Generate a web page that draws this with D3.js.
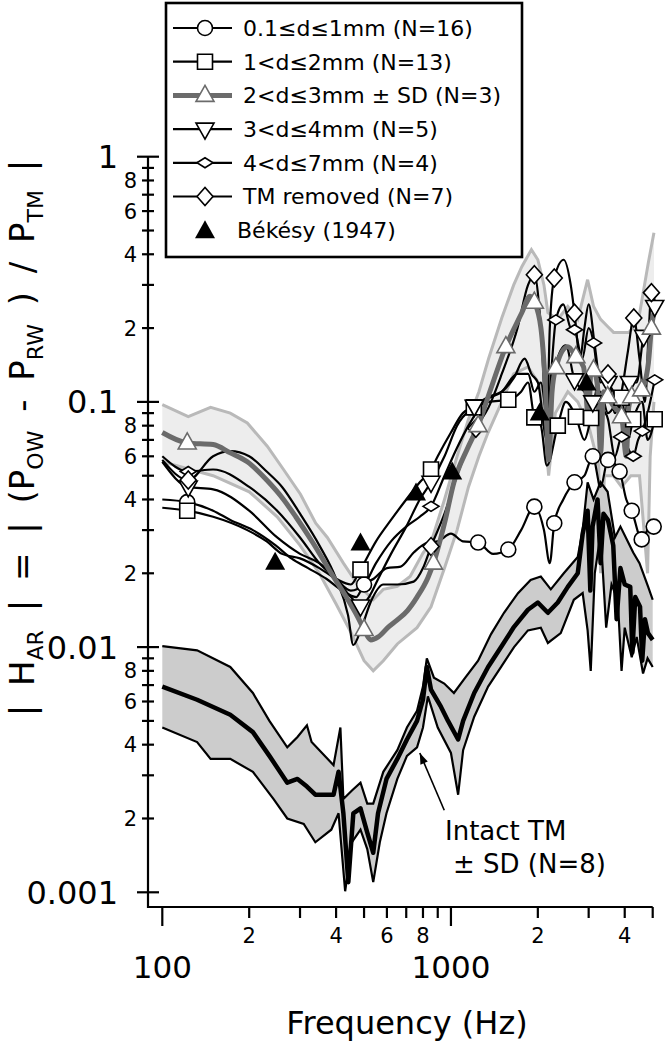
<!DOCTYPE html>
<html>
<head>
<meta charset="utf-8">
<script src="https://cdn.jsdelivr.net/npm/d3@7"></script>
<style>
  body { margin: 0; background: #fff; }
  svg { display: block; font-family: "DejaVu Sans", sans-serif; }
</style>
</head>
<body>
<svg id="chart" width="672" height="1050"></svg>
<script>
// values: [frequency Hz, |H_AR|, marker?]
var intactMean = [[100,0.0069],[132,0.0061],[172,0.0053],[206,0.0045],[235,0.0036],[271,0.0028],[294,0.0029],[317,0.0027],[339,0.0025],[362,0.0025],[392,0.0025],[408,0.0031],[424,0.0021],[441,0.0011],[459,0.0021],[486,0.0022],[513,0.00175],[538,0.00145],[559,0.0021],[598,0.0029],[652,0.0035],[704,0.0042],[763,0.005],[800,0.0061],[825,0.0083],[853,0.0067],[924,0.0057],[977,0.005],[1059,0.0042],[1102,0.005],[1204,0.0065],[1345,0.0083],[1492,0.01],[1654,0.0121],[1848,0.0142],[2000,0.0152],[2167,0.0138],[2345,0.0152],[2540,0.0176],[2750,0.02],[2860,0.029],[2975,0.036],[3040,0.017],[3095,0.031],[3220,0.04],[3300,0.022],[3377,0.035],[3500,0.033],[3650,0.026],[3750,0.013],[3865,0.021],[4000,0.018],[4180,0.0176],[4250,0.0095],[4350,0.016],[4520,0.0146],[4600,0.0088],[4700,0.013],[4816,0.0114],[5000,0.0107]];
var intactUpper = [[100,0.0101],[132,0.0097],[172,0.0083],[206,0.0065],[235,0.005],[271,0.0039],[294,0.0043],[317,0.0048],[329,0.0041],[392,0.0033],[414,0.0047],[424,0.0024],[454,0.0026],[486,0.0028],[513,0.0023],[538,0.0023],[583,0.0031],[652,0.0038],[704,0.0047],[763,0.0055],[800,0.0069],[825,0.009],[873,0.0075],[948,0.0071],[1024,0.0065],[1111,0.0074],[1242,0.0088],[1377,0.0113],[1527,0.0138],[1707,0.0166],[1888,0.0188],[2048,0.0194],[2218,0.0172],[2460,0.02],[2750,0.0233],[2860,0.03],[2975,0.047],[3120,0.04],[3300,0.047],[3490,0.043],[3700,0.028],[3865,0.031],[4280,0.0243],[4500,0.022],[4816,0.0177],[5000,0.0156]];
var intactLower = [[100,0.0047],[132,0.0041],[147,0.0035],[172,0.0035],[206,0.0031],[243,0.0024],[271,0.002],[309,0.0019],[339,0.0016],[385,0.0018],[408,0.0021],[430,0.00101],[454,0.0016],[486,0.0018],[513,0.0015],[538,0.0011],[567,0.0016],[598,0.0021],[652,0.0029],[704,0.0036],[763,0.0039],[800,0.0047],[832,0.0063],[900,0.0047],[1000,0.0037],[1059,0.0025],[1102,0.0038],[1204,0.0052],[1345,0.0069],[1492,0.0083],[1654,0.01],[1848,0.0117],[2048,0.012],[2167,0.0104],[2401,0.0114],[2665,0.0156],[2860,0.0166],[2975,0.0117],[3050,0.008],[3150,0.02],[3300,0.029],[3450,0.012],[3600,0.018],[3784,0.0156],[3900,0.008],[4000,0.012],[4230,0.0091],[4400,0.011],[4630,0.0078],[4800,0.009],[5000,0.0083]];

var grayMean = [[100,0.075],[122,0.068,1],[150,0.067],[172,0.062],[197,0.057],[230,0.048],[263,0.04],[290,0.034],[332,0.0267],[385,0.02],[434,0.016],[475,0.0133],[500,0.0118,1],[527,0.0107],[560,0.011],[604,0.012],[652,0.0129],[707,0.0141],[763,0.016],[832,0.0192],[870,0.022,1],[950,0.032],[1024,0.047],[1144,0.065],[1242,0.08,1],[1345,0.105],[1550,0.168,1],[1760,0.231],[1880,0.27],[1945,0.255,1],[2050,0.2],[2120,0.12],[2180,0.058],[2240,0.11],[2310,0.138,1],[2540,0.168],[2710,0.153,1],[2880,0.139],[3000,0.085],[3050,0.13],[3120,0.135,1],[3220,0.115],[3300,0.062],[3380,0.11],[3490,0.105,1],[3660,0.096],[3900,0.087,1],[4050,0.06],[4130,0.095],[4230,0.105,1],[4580,0.112,1],[4830,0.144],[4950,0.2,1],[5050,0.23]];
var grayUpper = [[100,0.0975],[123,0.087],[147,0.095],[172,0.09],[197,0.082],[231,0.066],[263,0.053],[301,0.042],[340,0.032],[373,0.028],[424,0.022],[475,0.018],[538,0.0156],[583,0.0172],[652,0.0177],[722,0.0194],[800,0.0242],[853,0.0267],[950,0.04],[1050,0.06],[1150,0.085],[1250,0.11],[1350,0.15],[1500,0.22],[1650,0.3],[1760,0.356],[1900,0.418],[2000,0.38],[2100,0.3],[2167,0.231],[2345,0.217],[2540,0.245],[2750,0.217],[2975,0.315],[3120,0.245],[3300,0.217],[3490,0.203],[3660,0.192],[4130,0.192],[4450,0.211],[4830,0.37],[5050,0.49]];
var grayLower = [[100,0.057],[150,0.05],[200,0.043],[250,0.034],[300,0.026],[350,0.02],[400,0.015],[450,0.0115],[500,0.0088],[538,0.008],[583,0.0088],[652,0.0103],[763,0.012],[853,0.0146],[950,0.021],[1050,0.03],[1150,0.045],[1250,0.06],[1345,0.075],[1500,0.1],[1650,0.13],[1848,0.139],[2048,0.116],[2180,0.05],[2300,0.09],[2540,0.11],[2750,0.1],[3000,0.08],[3250,0.055],[3300,0.02],[3400,0.05],[3650,0.05],[3900,0.045],[4200,0.05],[4500,0.05],[4800,0.02],[4900,0.06],[5050,0.1]];

var seriesA = [[100,0.04],[122,0.039,1],[150,0.036],[172,0.033],[206,0.03],[247,0.026],[280,0.023],[320,0.021],[370,0.019],[420,0.017],[470,0.016],[500,0.018,1],[540,0.019],[600,0.021],[670,0.0213],[743,0.0243],[830,0.0267],[900,0.027],[1000,0.029],[1100,0.027],[1242,0.0267,1],[1400,0.024],[1580,0.025,1],[1750,0.03],[1945,0.0374,1],[2100,0.03],[2200,0.022],[2280,0.032,1],[2450,0.04],[2680,0.047,1],[2900,0.05],[3100,0.06,1],[3300,0.045],[3500,0.058,1],[3840,0.052,1],[4050,0.04],[4230,0.036,1],[4580,0.0275,1],[4800,0.03],[5040,0.031,1]];
var seriesB = [[100,0.037],[122,0.036,1],[150,0.034],[197,0.03],[230,0.027],[260,0.024],[300,0.023],[350,0.021],[400,0.019],[450,0.018],[486,0.0207,1],[550,0.027],[620,0.033],[700,0.04],[780,0.047],[853,0.053,1],[900,0.06],[1000,0.075],[1100,0.09],[1200,0.095,1],[1350,0.1],[1580,0.102,1],[1750,0.11],[1850,0.12],[1945,0.0865,1],[2050,0.08],[2150,0.055],[2345,0.08,1],[2500,0.1],[2710,0.087,1],[2900,0.07],[3060,0.086,1],[3300,0.11],[3500,0.09],[3900,0.104,1],[4100,0.07],[4280,0.085,1],[4600,0.1],[4800,0.07],[5080,0.085,1]];
var seriesD = [[100,0.057],[123,0.045,1],[150,0.044],[200,0.036],[250,0.028],[300,0.024],[350,0.022],[400,0.019],[450,0.016],[486,0.0147,1],[520,0.016],[560,0.019],[620,0.024],[700,0.031],[780,0.04],[853,0.047,1],[950,0.06],[1050,0.08],[1204,0.096,1],[1350,0.105],[1500,0.11],[1650,0.125],[1800,0.15],[1900,0.13],[2000,0.12],[2150,0.07],[2300,0.14],[2500,0.17],[2680,0.123,1],[2900,0.11],[3100,0.1,1],[3300,0.13],[3500,0.12,1],[3800,0.1],[4000,0.085],[4150,0.12,1],[4400,0.12],[4650,0.185,1],[4850,0.2],[5080,0.245,1]];
var seriesE = [[100,0.06],[123,0.052,1],[150,0.053],[200,0.045],[250,0.036],[300,0.028],[350,0.022],[400,0.019],[450,0.017],[500,0.018],[550,0.022],[620,0.027],[700,0.031],[780,0.034],[853,0.0375,1],[950,0.05],[1050,0.065],[1150,0.08],[1300,0.1],[1500,0.11],[1700,0.13],[1850,0.13],[1945,0.11],[2050,0.12],[2150,0.09],[2310,0.216,1],[2450,0.25],[2600,0.2],[2680,0.197,1],[2850,0.15],[3000,0.2],[3120,0.174,1],[3300,0.1],[3500,0.085],[3700,0.06],[3900,0.072,1],[4100,0.065],[4280,0.06,1],[4450,0.07],[4600,0.076,1],[4800,0.09],[5080,0.123,1]];
var seriesF = [[100,0.058],[123,0.048,1],[150,0.06],[172,0.063],[200,0.06],[230,0.052],[260,0.045],[300,0.035],[350,0.026],[400,0.019],[440,0.0135],[459,0.0102],[490,0.012],[530,0.0155],[583,0.018],[652,0.018],[743,0.0185],[800,0.021],[853,0.0257,1],[950,0.035],[1050,0.05],[1220,0.078,1],[1350,0.095],[1500,0.13],[1700,0.2],[1850,0.3],[1945,0.33,1],[2050,0.2],[2150,0.08],[2200,0.2],[2280,0.32,1],[2460,0.38],[2600,0.3],[2680,0.23,1],[2800,0.15],[2900,0.2],[3000,0.25],[3150,0.17],[3300,0.12],[3500,0.13,1],[3700,0.09],[3900,0.11],[4100,0.16],[4300,0.22,1],[4500,0.15],[4700,0.1],[4850,0.2],[4950,0.279,1],[5080,0.26]];
var bekesy = [[246,0.0223],[486,0.0267],[757,0.0427],[1010,0.052],[2030,0.0905],[2950,0.12]];

var legendLabels = ["0.1\u2264d\u22641mm (N=16)", "1<d\u22642mm (N=13)", "2<d\u22643mm \u00b1 SD (N=3)", "3<d\u22644mm (N=5)", "4<d\u22647mm (N=4)", "TM removed (N=7)", "B\u00e9k\u00e9sy (1947)"];
var yMajorTicks = [1, 0.1, 0.01, 0.001];
var yMajorLabels = ["1", "0.1", "0.01", "0.001"];
var yMinorTicks = [0.9,0.8,0.7,0.6,0.5,0.4,0.3,0.2,0.09,0.08,0.07,0.06,0.05,0.04,0.03,0.02,0.009,0.008,0.007,0.006,0.005,0.004,0.003,0.002];
var yMinorLabeled = [0.8,0.6,0.4,0.2,0.08,0.06,0.04,0.02,0.008,0.006,0.004,0.002];
var yMinorLabels = ["8","6","4","2","8","6","4","2","8","6","4","2"];
var xMajorTicks = [100, 1000];
var xMajorLabels = ["100", "1000"];
var xMinorTicks = [200,300,400,500,600,700,800,900,2000,3000,4000,5000];
var xMinorLabeled = [200,400,600,800,2000,4000];
var xMinorLabels = ["2","4","6","8","2","4"];

var svg = d3.select("#chart");
var x = d3.scaleLog().domain([100, 5000]).range([162.3, 652.7]);
var y = d3.scaleLog().domain([0.001, 1]).range([892.3, 156.7]);
var axisLeftX = 148, axisBottomY = 907;

var lineGen = function(curve) {
  return d3.line()
    .x(function(d) { return x(d[0]); })
    .y(function(d) { return y(d[1]); })
    .curve(curve || d3.curveLinear);
};

var band = function(upper, lower, fill) {
  var pts = upper.concat(lower.slice().reverse());
  svg.append("path")
    .attr("d", lineGen()(pts) + "Z")
    .attr("fill", fill)
    .attr("stroke", "none");
};

var markerPath = function(type, cx, cy) {
  if (type === "triUp") {
    return "M" + cx + "," + (cy - 10) + "L" + (cx + 9) + "," + (cy + 6) + "L" + (cx - 9) + "," + (cy + 6) + "Z";
  }
  if (type === "triDown") {
    return "M" + cx + "," + (cy + 10) + "L" + (cx + 9) + "," + (cy - 6) + "L" + (cx - 9) + "," + (cy - 6) + "Z";
  }
  if (type === "triFill") {
    return "M" + cx + "," + (cy - 10) + "L" + (cx + 10) + "," + (cy + 8) + "L" + (cx - 10) + "," + (cy + 8) + "Z";
  }
  if (type === "smallDiamond") {
    return "M" + (cx - 8) + "," + cy + "L" + cx + "," + (cy - 5) + "L" + (cx + 8) + "," + cy + "L" + cx + "," + (cy + 5) + "Z";
  }
  if (type === "diamond") {
    return "M" + (cx - 8) + "," + cy + "L" + cx + "," + (cy - 9) + "L" + (cx + 8) + "," + cy + "L" + cx + "," + (cy + 9) + "Z";
  }
  if (type === "square") {
    return "M" + (cx - 7.5) + "," + (cy - 7.5) + "h15v15h-15Z";
  }
  // circle
  return "M" + (cx - 7.5) + "," + cy + "a7.5,7.5 0 1,0 15,0a7.5,7.5 0 1,0 -15,0Z";
};

var drawMarker = function(g, type, cx, cy, color) {
  g.append("path")
    .attr("d", markerPath(type, cx, cy))
    .attr("fill", type === "triFill" ? "#000" : "#fff")
    .attr("stroke", color || "#000")
    .attr("stroke-width", type === "triFill" ? 0 : 1.6);
};

// 2<d<=3 mm band
band(grayUpper, grayLower, "#ededed");
[grayUpper, grayLower].forEach(function(s) {
  svg.append("path").attr("d", lineGen()(s))
    .attr("fill", "none").attr("stroke", "#b9b9b9").attr("stroke-width", 3);
});

// intact TM band
band(intactUpper, intactLower, "#cccccc");
[intactUpper, intactLower].forEach(function(s) {
  svg.append("path").attr("d", lineGen()(s))
    .attr("fill", "none").attr("stroke", "#000").attr("stroke-width", 2.2);
});
svg.append("path").attr("d", lineGen()(intactMean))
  .attr("fill", "none").attr("stroke", "#000").attr("stroke-width", 4.5)
  .attr("stroke-linejoin", "round");

var blackSeries = [
  { data: seriesA, marker: "circle" },
  { data: seriesB, marker: "square" },
  { data: seriesD, marker: "triDown" },
  { data: seriesE, marker: "smallDiamond" },
  { data: seriesF, marker: "diamond" }
];

blackSeries.forEach(function(s) {
  svg.append("path").attr("d", lineGen(d3.curveMonotoneX)(s.data))
    .attr("fill", "none").attr("stroke", "#000").attr("stroke-width", 2.2);
});
svg.append("path").attr("d", lineGen(d3.curveMonotoneX)(grayMean))
  .attr("fill", "none").attr("stroke", "#6b6b6b").attr("stroke-width", 5)
  .attr("stroke-linejoin", "round");

var marks = svg.append("g").attr("class", "markers");
blackSeries.forEach(function(s) {
  s.data.forEach(function(d) {
    if (d[2]) drawMarker(marks, s.marker, x(d[0]), y(d[1]));
  });
});
grayMean.forEach(function(d) {
  if (d[2]) drawMarker(marks, "triUp", x(d[0]), y(d[1]), "#6b6b6b");
});
bekesy.forEach(function(d) {
  drawMarker(marks, "triFill", x(d[0]), y(d[1]));
});

// arrow to the intact curve
var ax1 = x(948), ay1 = y(0.00216), ax2 = x(780), ay2 = y(0.0037);
var ang = Math.atan2(ay2 - ay1, ax2 - ax1);
svg.append("line").attr("x1", ax1).attr("y1", ay1).attr("x2", ax2).attr("y2", ay2)
  .attr("stroke", "#000").attr("stroke-width", 1.6);
svg.append("path")
  .attr("d", "M0,0L-11,-4L-11,4Z")
  .attr("transform", "translate(" + ax2 + "," + ay2 + ") rotate(" + (ang * 180 / Math.PI) + ")")
  .attr("fill", "#000");
svg.append("text").attr("x", 445).attr("y", 840).style("font-size", "26px").text("Intact TM");
svg.append("text").attr("x", 453).attr("y", 873).style("font-size", "26px").text("\u00b1 SD (N=8)");

// axes
var axes = svg.append("g").attr("stroke", "#000").attr("stroke-width", 2.2);
axes.append("path")
  .attr("d", "M" + axisLeftX + "," + y(1) + "V" + axisBottomY + "H" + x(5000))
  .attr("fill", "none");
axes.selectAll(".ymaj").data(yMajorTicks).enter().append("line")
  .attr("x1", axisLeftX - 11).attr("x2", axisLeftX + 11)
  .attr("y1", function(d) { return y(d); }).attr("y2", function(d) { return y(d); });
axes.selectAll(".ymin").data(yMinorTicks).enter().append("line")
  .attr("x1", axisLeftX - 6).attr("x2", axisLeftX + 6)
  .attr("y1", function(d) { return y(d); }).attr("y2", function(d) { return y(d); });
axes.selectAll(".xmaj").data(xMajorTicks).enter().append("line")
  .attr("x1", function(d) { return x(d); }).attr("x2", function(d) { return x(d); })
  .attr("y1", axisBottomY).attr("y2", axisBottomY + 19);
axes.selectAll(".xmin").data(xMinorTicks).enter().append("line")
  .attr("x1", function(d) { return x(d); }).attr("x2", function(d) { return x(d); })
  .attr("y1", axisBottomY).attr("y2", axisBottomY + 11);

svg.selectAll(".ymajlab").data(yMajorTicks).enter().append("text")
  .attr("x", 118).attr("y", function(d) { return y(d); })
  .attr("dy", "0.36em").attr("text-anchor", "end").style("font-size", "32px")
  .text(function(d, i) { return yMajorLabels[i]; });
svg.selectAll(".yminlab").data(yMinorLabeled).enter().append("text")
  .attr("x", 137).attr("y", function(d) { return y(d); })
  .attr("dy", "0.36em").attr("text-anchor", "end").style("font-size", "21px")
  .text(function(d, i) { return yMinorLabels[i]; });
svg.selectAll(".xmajlab").data(xMajorTicks).enter().append("text")
  .attr("x", function(d) { return x(d); }).attr("y", 978)
  .attr("text-anchor", "middle").style("font-size", "31px")
  .text(function(d, i) { return xMajorLabels[i]; });
svg.selectAll(".xminlab").data(xMinorLabeled).enter().append("text")
  .attr("x", function(d) { return x(d); }).attr("y", 943)
  .attr("text-anchor", "middle").style("font-size", "21px")
  .text(function(d, i) { return xMinorLabels[i]; });

svg.append("text").attr("x", 407).attr("y", 1034).attr("text-anchor", "middle")
  .style("font-size", "32px").text("Frequency (Hz)");

// y title with subscripts
var title = svg.append("text")
  .attr("transform", "translate(34,438) rotate(-90)")
  .attr("text-anchor", "middle")
  .style("font-size", "34px")
  .style("word-spacing", "8px")
  .style("white-space", "pre");
var titleParts = [["| H", 0], ["AR", 1], [" | = | (P", 0], ["OW", 1], [" - P", 0], ["RW", 1], [" ) / P", 0], ["TM", 1], [" |", 0]];
titleParts.forEach(function(p, i) {
  var prevSub = i > 0 && titleParts[i - 1][1];
  title.append("tspan")
    .attr("dy", p[1] ? 9 : (prevSub ? -9 : 0))
    .style("font-size", p[1] ? "22px" : "34px")
    .text(p[0]);
});

// legend
var legend = svg.append("g").attr("class", "legend");
legend.append("rect").attr("x", 166).attr("y", 3).attr("width", 356).attr("height", 254)
  .attr("fill", "#fff").attr("stroke", "#000").attr("stroke-width", 2.6);
var legendMarkers = ["circle", "square", "triUp", "triDown", "smallDiamond", "diamond", "triFill"];
legendLabels.forEach(function(lab, i) {
  var cy = 28 + i * 33.7;
  var col = i === 2 ? "#6b6b6b" : "#000";
  if (i < 6) {
    legend.append("line").attr("x1", 173).attr("x2", 232).attr("y1", cy).attr("y2", cy)
      .attr("stroke", col).attr("stroke-width", i === 2 ? 5 : 2.2);
  }
  drawMarker(legend, legendMarkers[i], 205, cy, col);
  legend.append("text").attr("x", i === 6 ? 237 : 243).attr("y", cy).attr("dy", "0.36em")
    .style("font-size", "22px").text(lab);
});
</script>
</body>
</html>
